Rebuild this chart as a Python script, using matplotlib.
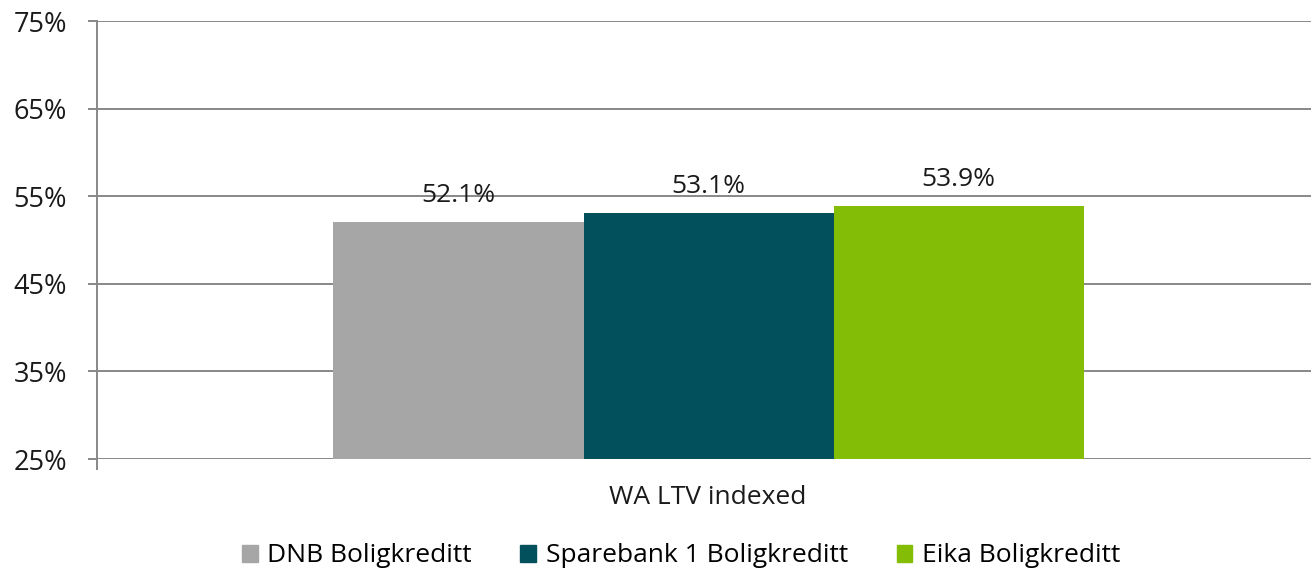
import matplotlib
matplotlib.use("Agg")
import matplotlib.pyplot as plt
import numpy as np

plt.rcParams['font.family'] = ['Open Sans', 'DejaVu Sans']

category = "WA LTV indexed"
series = ["DNB Boligkreditt", "Sparebank 1 Boligkreditt", "Eika Boligkreditt"]
values = [52.1, 53.1, 53.9]
colors = ["#a6a6a6", "#02505c", "#84bd06"]
yticks = [25, 35, 45, 55, 65, 75]

fig = plt.figure(figsize=(13.11, 5.77), dpi=100)
ax = fig.add_axes([97/1311, 1 - 459/577, (1311 - 97)/1311, (459 - 21)/577])

bw = 250 / 1214
center = 0.5 + (708.5 - 704) / 1214
xs = [center - bw, center, center + bw]
for x, v, c, lab in zip(xs, values, colors, series):
    ax.bar(x, v - 25, bottom=25, width=bw, color=c, label=lab, zorder=3)
    ax.text(x, v + 3.0, f"{v:.1f}%", ha='center', va='center', fontsize=19, color='#1a1a1a', zorder=4)

ax.set_xlim(0, 1)
ax.set_ylim(25, 75)
ax.set_yticks(yticks)
ax.set_yticklabels([f"{t}%" for t in yticks], fontsize=19.5, color='#1a1a1a')
ax.yaxis.grid(True, color='#888888', linewidth=1.4, zorder=0)
ax.tick_params(axis='y', length=6.5, width=1.4, color='#888888', pad=15)
ax.set_xticks([0])
ax.set_xticklabels([""])
ax.tick_params(axis='x', length=8, width=1.4, color='#888888', direction='out')
for s in ['top', 'right', 'bottom']:
    ax.spines[s].set_visible(False)
ax.spines['left'].set_color('#888888')
ax.spines['left'].set_linewidth(1.4)

fig.text(708 / 1311, 1 - 497/577, category, ha='center', va='center', fontsize=19, color='#1a1a1a')

handles = [plt.Rectangle((0, 0), 1, 1, color=c) for c in colors]
fig.legend(handles, series, loc='center', bbox_to_anchor=(681/1311, 1 - 556/577), ncol=3, frameon=False,
           fontsize=19, handlelength=0.6, handleheight=0.6, handletextpad=0.35, columnspacing=1.85)

fig.savefig("out.png", dpi=100)
